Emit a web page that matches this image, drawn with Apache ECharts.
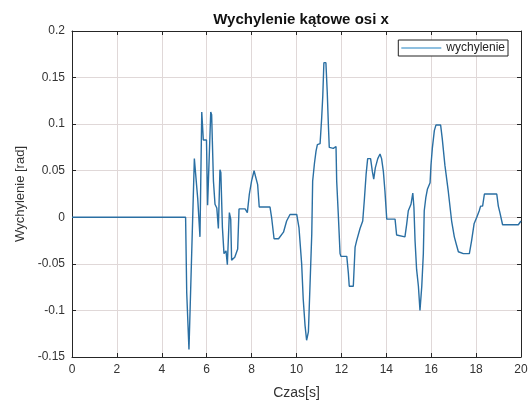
<!DOCTYPE html>
<html>
<head>
<meta charset="utf-8">
<script src="https://cdn.jsdelivr.net/npm/echarts@6/dist/echarts.min.js"></script>
<style>html,body{margin:0;padding:0;background:#fff}#c{width:531px;height:405px}</style>
</head>
<body>
<div id="c"></div>
<script>
const time = [0,5.06,5.11,5.21,5.29,5.36,5.45,5.5,5.6,5.7,5.78,5.85,5.99,6.04,6.11,6.18,6.22,6.3,6.37,6.45,6.52,6.59,6.63,6.7,6.77,6.86,6.92,7.01,7.07,7.11,7.25,7.38,7.44,7.71,7.81,7.9,8.0,8.11,8.19,8.27,8.34,8.82,8.89,9.0,9.2,9.42,9.49,9.56,9.71,10.01,10.11,10.23,10.3,10.38,10.45,10.53,10.6,10.68,10.72,10.8,10.87,10.93,11.05,11.12,11.17,11.22,11.31,11.37,11.42,11.46,11.64,11.76,11.79,11.86,11.94,11.98,12.24,12.31,12.35,12.53,12.61,12.68,12.83,12.95,13.02,13.1,13.17,13.3,13.38,13.44,13.51,13.62,13.72,13.79,13.87,13.94,14.02,14.39,14.46,14.83,14.91,14.98,15.1,15.18,15.23,15.28,15.35,15.43,15.5,15.58,15.65,15.69,15.76,15.83,15.95,15.99,16.05,16.14,16.21,16.42,16.49,16.61,16.76,16.91,17.03,17.13,17.21,17.43,17.7,17.8,17.91,18.03,18.14,18.2,18.29,18.37,18.92,18.99,19.06,19.18,19.88,20];
const wychylenie = [0,0,-0.081,-0.142,-0.074,-0.074,0.063,0.065,0.02,-0.021,0.113,0.083,0.083,0.013,0.013,0.113,0.11,0.039,0.014,0.01,-0.012,0.051,0.048,-0.011,-0.039,-0.036,-0.051,0.005,-0.002,-0.046,-0.043,-0.034,0.009,0.009,0.005,0.025,0.039,0.05,0.05,0.035,0.011,0.011,0,-0.023,-0.023,-0.016,-0.014,-0.004,0.003,0.003,-0.011,-0.05,-0.088,-0.116,-0.132,-0.123,-0.074,-0.018,0.039,0.058,0.071,0.078,0.079,0.106,0.13,0.166,0.166,0.134,0.099,0.075,0.074,0.076,0.039,0.004,-0.039,-0.042,-0.042,-0.06,-0.074,-0.074,-0.032,-0.025,-0.012,-0.004,0.018,0.046,0.063,0.063,0.049,0.041,0.053,0.063,0.068,0.063,0.049,0.028,-0.002,-0.002,-0.019,-0.021,-0.007,0.007,0.014,0.026,0.011,-0.025,-0.056,-0.074,-0.1,-0.074,-0.039,0.007,0.021,0.03,0.037,0.056,0.074,0.093,0.099,0.099,0.085,0.056,0.028,-0.004,-0.021,-0.03,-0.037,-0.039,-0.039,-0.025,-0.007,0,0.007,0.012,0.012,0.025,0.025,0.012,0.005,-0.008,-0.008,-0.004];
const xTicks = {min: 0, max: 20, interval: 2};
const yTicks = {min: -0.15, max: 0.2, interval: 0.05};

const chart = echarts.init(document.getElementById('c'));
const font = 'Liberation Sans, Arial, sans-serif';
const axisCol = '#262626';
const gridCol = '#e0d8d8';
const baseX = {
  type: 'value', min: xTicks.min, max: xTicks.max, interval: xTicks.interval,
  axisLine: {show: true, onZero: false, lineStyle: {color: axisCol, width: 1}},
  axisTick: {show: true, inside: true, length: 4, lineStyle: {color: axisCol}},
  splitLine: {show: false}
};
const baseY = {
  type: 'value', min: yTicks.min, max: yTicks.max, interval: yTicks.interval,
  axisLine: {show: true, onZero: false, lineStyle: {color: axisCol, width: 1}},
  axisTick: {show: true, inside: true, length: 4, lineStyle: {color: axisCol}},
  splitLine: {show: false}
};
chart.setOption({
  animation: false,
  backgroundColor: '#fff',
  title: {
    text: 'Wychylenie kątowe osi x', left: 296, textAlign: 'center', top: 7,
    textStyle: {fontFamily: font, fontSize: 15, fontWeight: 'bold', color: '#111'}
  },
  legend: {
    right: 23, top: 40, orient: 'vertical',
    itemWidth: 40, itemHeight: 2, itemGap: 4,
    padding: [2, 3, 2, 3],
    borderColor: '#222', borderWidth: 1, backgroundColor: '#fff',
    textStyle: {fontFamily: font, fontSize: 12, color: '#222'},
    data: [{name: 'wychylenie', icon: 'rect', itemStyle: {color: '#8fc0e0'}}]
  },
  grid: {left: 72, right: 10, top: 31, bottom: 43, containLabel: false},
  xAxis: [
    Object.assign({}, baseX, {
      position: 'bottom',
      name: 'Czas[s]', nameLocation: 'middle', nameGap: 29,
      nameTextStyle: {fontFamily: font, fontSize: 14, color: '#333'},
      axisLabel: {fontFamily: font, fontSize: 12, color: '#333', margin: 7},
      splitLine: {show: true, lineStyle: {color: gridCol, width: 1}}
    }),
    Object.assign({}, baseX, {position: 'top', axisLabel: {show: false}})
  ],
  yAxis: [
    Object.assign({}, baseY, {
      position: 'left',
      name: 'Wychylenie [rad]', nameLocation: 'middle', nameGap: 45,
      nameTextStyle: {fontFamily: font, fontSize: 13, color: '#333'},
      axisLabel: {fontFamily: font, fontSize: 12, color: '#333', margin: 7},
      splitLine: {show: true, lineStyle: {color: gridCol, width: 1}}
    }),
    Object.assign({}, baseY, {position: 'right', axisLabel: {show: false}})
  ],
  series: [{
    name: 'wychylenie', type: 'line', xAxisIndex: 0, yAxisIndex: 0,
    data: time.map((t, i) => [t, wychylenie[i]]),
    showSymbol: false, symbol: 'none',
    lineStyle: {color: '#2a6fa3', width: 1.4},
    itemStyle: {color: '#2a6fa3'}
  }]
});
</script>
</body>
</html>
